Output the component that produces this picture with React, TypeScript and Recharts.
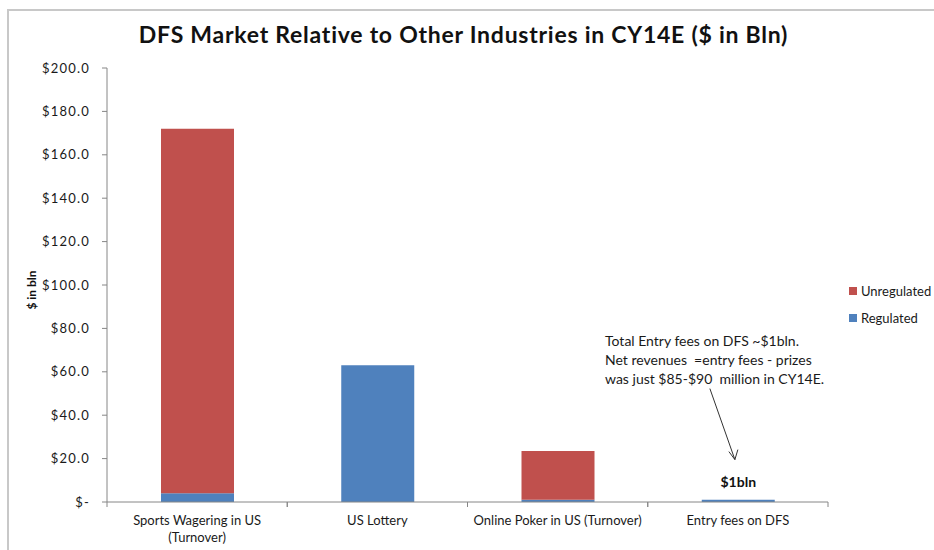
import React from "react";
import {
  BarChart,
  Bar,
  XAxis,
  YAxis,
  LabelList,
  ReferenceDot,
} from "recharts";

// values ($ bln)
const categories = [
  "Sports Wagering in US (Turnover)",
  "US Lottery",
  "Online Poker in US (Turnover)",
  "Entry fees on DFS",
];
const tickLines: string[][] = [
  ["Sports Wagering in US", "(Turnover)"],
  ["US Lottery"],
  ["Online Poker in US (Turnover)"],
  ["Entry fees on DFS"],
];
const regulated = [4, 63, 1, 1];
const unregulated = [168, 0, 22.5, 0];
const yTicks = [0, 20, 40, 60, 80, 100, 120, 140, 160, 180, 200];
const legendItems = [
  { label: "Unregulated", color: "#C0504D" },
  { label: "Regulated", color: "#4F81BD" },
];

const RED = "#C0504D";
const BLUE = "#4F81BD";
const AXIS = "#868686";
const FONT = "Lato, 'Open Sans', sans-serif";

const W = 934;
const H = 550;
const M = { top: 68, right: 106, bottom: 8, left: 0 };
const Y_W = 107;
const X_H = 40;
const BAND = (W - M.left - Y_W - M.right) / categories.length;

const rows = categories.map((c, i) => ({
  name: c,
  regulated: regulated[i],
  unregulated: unregulated[i],
}));

const fmtY = (v: number) => (v === 0 ? "$-" : `$${v.toFixed(1)}`);

function XTick(props: any) {
  const { x, y, index } = props;
  const lines = tickLines[index] || [];
  return (
    <g>
      <line x1={x - BAND / 2} x2={x - BAND / 2} y1={y} y2={y + 5} stroke={AXIS} />
      <line x1={x + BAND / 2} x2={x + BAND / 2} y1={y} y2={y + 5} stroke={AXIS} />
      {lines.map((l, i) => (
        <text
          key={i}
          x={x}
          y={y + 23 + i * 17}
          textAnchor="middle"
          fill="#1a1a1a"
          fontSize={13}
          fontFamily={FONT}
        >
          {l}
        </text>
      ))}
    </g>
  );
}

function Arrow(props: any) {
  const { cx, cy } = props;
  const x1 = cx - 28;
  const y1 = cy - 70;
  const x2 = cx - 3;
  const y2 = cy + 1;
  return (
    <g stroke="#333" strokeWidth={1} fill="none">
      <line x1={x1} y1={y1} x2={x2} y2={y2} />
      <polyline points={`${x2 - 6},${y2 - 8} ${x2},${y2} ${x2 + 3},${y2 - 10}`} />
    </g>
  );
}

export default function App() {
  return (
    <div style={{ position: "absolute", left: 0, top: 0, width: W, height: H, background: "#fff" }}>
      <div
        style={{
          position: "absolute",
          left: 7,
          top: 9,
          right: 0,
          bottom: 0,
          borderLeft: "2px solid #c8c8c8",
          borderTop: "2px solid #c8c8c8",
        }}
      />
      <div
        style={{
          position: "absolute",
          left: 0,
          width: W - 7,
          top: 20,
          textAlign: "center",
          fontFamily: FONT,
          fontWeight: 700,
          fontSize: 23,
          letterSpacing: 0.75,
          color: "#111",
        }}
      >
        DFS Market Relative to Other Industries in CY14E ($ in Bln)
      </div>
      <div
        style={{
          position: "absolute",
          left: 605,
          top: 331,
          fontFamily: FONT,
          fontSize: 14,
          lineHeight: "19px",
          color: "#1a1a1a",
          whiteSpace: "pre",
        }}
      >
        {"Total Entry fees on DFS ~$1bln.\nNet revenues  =entry fees - prizes\nwas just $85-$90  million in CY14E."}
      </div>
      <div
        style={{
          position: "absolute",
          left: 849,
          top: 277,
          fontFamily: FONT,
          fontSize: 13,
          color: "#1a1a1a",
        }}
      >
        {legendItems.map((it) => (
          <div key={it.label} style={{ display: "flex", alignItems: "center", height: 27 }}>
            <span
              style={{
                width: 8,
                height: 8,
                background: it.color,
                marginRight: 4,
                display: "inline-block",
              }}
            />
            {it.label}
          </div>
        ))}
      </div>
      <BarChart width={W} height={H} data={rows} margin={M} barSize={73}>
        <XAxis
          dataKey="name"
          height={X_H}
          tickSize={0}
          tickMargin={0}
          tickLine={false}
          axisLine={{ stroke: AXIS }}
          tick={<XTick />}
          interval={0}
        />
        <YAxis
          width={Y_W}
          domain={[0, 200]}
          ticks={yTicks}
          tickFormatter={fmtY}
          tickSize={5}
          tickMargin={12}
          axisLine={{ stroke: AXIS }}
          tickLine={{ stroke: AXIS }}
          tick={{ fill: "#1a1a1a", fontSize: 13, fontFamily: FONT, letterSpacing: 1.2 }}
          label={({ viewBox }: any) => (
            <text
              x={viewBox.x + 36}
              y={viewBox.y + viewBox.height / 2 + 5}
              transform={`rotate(-90, ${viewBox.x + 36}, ${viewBox.y + viewBox.height / 2 + 5})`}
              textAnchor="middle"
              fontFamily={FONT}
              fontWeight={700}
              fontSize={12}
              fill="#111"
            >
              $ in bln
            </text>
          )}
        />
        <Bar dataKey="regulated" name="Regulated" stackId="a" fill={BLUE} isAnimationActive={false}>
          <LabelList
            dataKey="regulated"
            content={(p: any) =>
              p.index === categories.length - 1 ? (
                <text
                  x={p.x + p.width / 2}
                  y={p.y - 13}
                  textAnchor="middle"
                  fontFamily={FONT}
                  fontWeight={700}
                  fontSize={14}
                  fill="#111"
                >
                  $1bln
                </text>
              ) : null
            }
          />
        </Bar>
        <Bar dataKey="unregulated" name="Unregulated" stackId="a" fill={RED} isAnimationActive={false} />
        <ReferenceDot x={categories[3]} y={20} r={0} shape={<Arrow />} />
      </BarChart>
    </div>
  );
}
